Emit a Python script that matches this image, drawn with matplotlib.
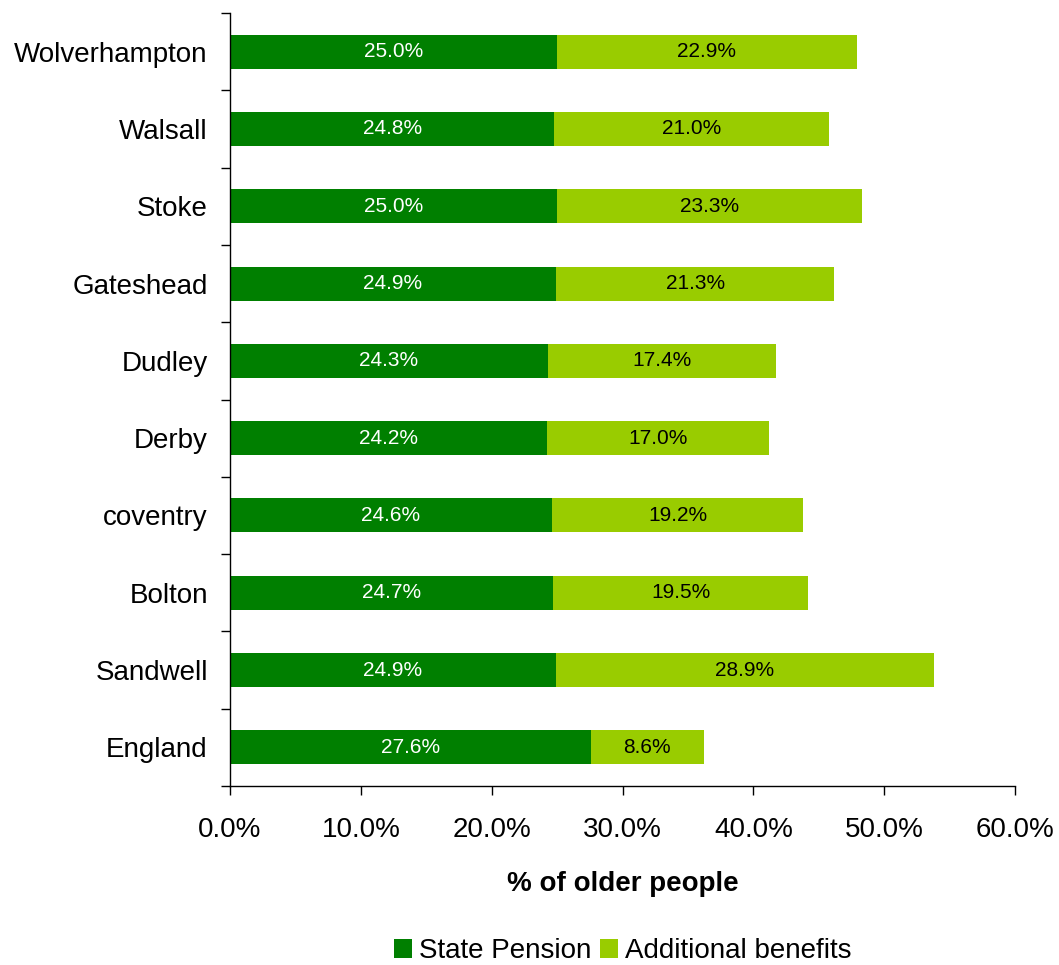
import numpy as np
import matplotlib.pyplot as plt
from matplotlib.ticker import FixedLocator, PercentFormatter

plt.rcParams['font.family'] = ['Liberation Sans', 'DejaVu Sans']

areas = ['Wolverhampton', 'Walsall', 'Stoke', 'Gateshead', 'Dudley',
         'Derby', 'coventry', 'Bolton', 'Sandwell', 'England']
state_pension = [25.0, 24.8, 25.0, 24.9, 24.3, 24.2, 24.6, 24.7, 24.9, 27.6]
additional = [22.9, 21.0, 23.3, 21.3, 17.4, 17.0, 19.2, 19.5, 28.9, 8.6]

dark_green = '#007F00'
light_green = '#99CC00'

fig = plt.figure(figsize=(10.59, 9.65), dpi=100)
ax = fig.add_axes([0.2172, 0.1855, 0.7413, 0.801])

# England at the bottom, Wolverhampton on top
y = np.arange(len(areas))[::-1]
bh = 0.44
b1 = ax.barh(y, state_pension, height=bh, color=dark_green, label='State Pension')
b2 = ax.barh(y, additional, left=state_pension, height=bh, color=light_green,
             label='Additional benefits')

ax.bar_label(b1, labels=[f'{v:.1f}%' for v in state_pension], label_type='center',
             color='white', fontsize=15)
ax.bar_label(b2, labels=[f'{v:.1f}%' for v in additional], label_type='center',
             color='black', fontsize=15)

ax.set_xlim(0, 60)
ax.set_ylim(-0.5, len(areas) - 0.5)
ax.set_xticks(np.arange(0, 61, 10))
ax.xaxis.set_major_formatter(PercentFormatter(decimals=1))
ax.tick_params(axis='x', direction='out', length=6.5, width=1, labelsize=20, pad=16)

# category ticks sit between bars, names at the bar centres
ax.yaxis.set_major_locator(FixedLocator(np.arange(-0.5, len(areas), 1.0)))
ax.yaxis.set_minor_locator(FixedLocator(y))
ax.set_yticklabels([], minor=False)
ax.set_yticklabels(areas, minor=True)
ax.tick_params(axis='y', which='major', direction='out', length=6.5, width=1)
ax.tick_params(axis='y', which='minor', length=0, labelsize=20, pad=16)

for side in ['top', 'right']:
    ax.spines[side].set_visible(False)
for side in ['left', 'bottom']:
    ax.spines[side].set_linewidth(1)

ax.set_xlabel('% of older people', fontsize=20, fontweight='bold', labelpad=20)

ax.legend(loc='center', bbox_to_anchor=(0.5, -0.2135), ncol=2, frameon=False,
          fontsize=20, handlelength=0.65, handleheight=0.65, handletextpad=0.25,
          columnspacing=0.3)

plt.savefig('out.png', dpi=100)
